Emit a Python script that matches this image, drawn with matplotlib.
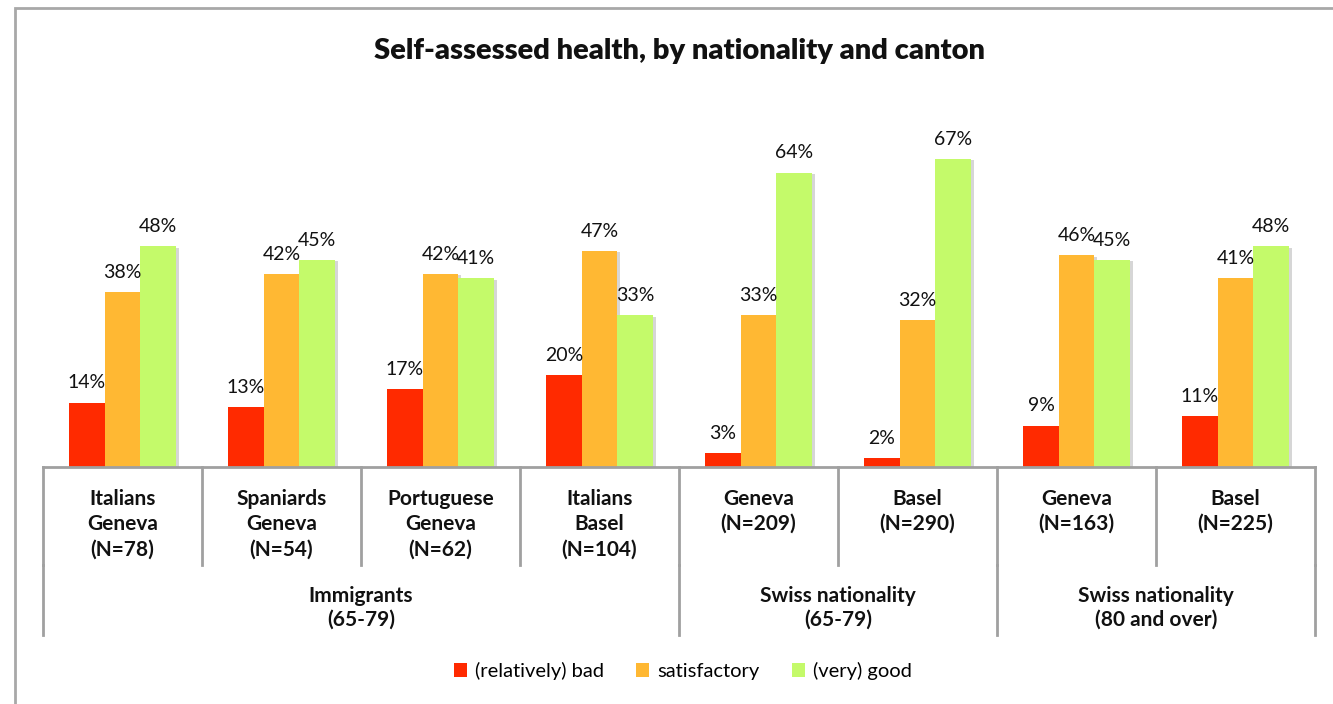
import matplotlib
matplotlib.use("Agg")
import matplotlib.pyplot as plt
import matplotlib.patheffects as pe
from matplotlib.patches import Rectangle, Patch
import numpy as np

plt.rcParams['font.family'] = ['Lato', 'DejaVu Sans']

# dados do gráfico
categorias = ["Italians\nGeneva\n(N=78)", "Spaniards\nGeneva\n(N=54)",
              "Portuguese\nGeneva\n(N=62)", "Italians\nBasel\n(N=104)",
              "Geneva\n(N=209)", "Basel\n(N=290)",
              "Geneva\n(N=163)", "Basel\n(N=225)"]
grupos = ["Immigrants\n(65-79)", "Swiss nationality\n(65-79)",
          "Swiss nationality\n(80 and over)"]
grupos_tamanho = [4, 2, 2]

series = ["(relatively) bad", "satisfactory", "(very) good"]
ruim = [14, 13, 17, 20, 3, 2, 9, 11]
satisfatorio = [38, 42, 42, 47, 33, 32, 46, 41]
bom = [48, 45, 41, 33, 64, 67, 45, 48]
cores = ['#FF2A00', '#FFB833', '#C4FA6A']

W, H = 1333, 704
fig = plt.figure(figsize=(W / 100, H / 100), dpi=100)

# moldura (sai da imagem à direita e embaixo)
fig.patches.append(Rectangle((15 / W, -0.1), 1.1, (H - 8) / H + 0.1,
                             transform=fig.transFigure, fill=False,
                             edgecolor='#a8a8a8', linewidth=2))

# eixo principal em pixels: x 43..1315, base em y=467, topo em y=99
x0, x1, yb, yt = 43, 1315, 467, 99
ax = fig.add_axes([x0 / W, (H - yb) / H, (x1 - x0) / W, (yb - yt) / H])
ax.set_xlim(-0.5, len(categorias) - 0.5)
ax.set_ylim(0, 80)
ax.axis('off')

x = np.arange(len(categorias))
larg = 0.2236
sombra = [pe.SimplePatchShadow(offset=(2, -1), shadow_rgbFace='#999999', alpha=0.4), pe.Normal()]
for i, (vals, cor) in enumerate(zip([ruim, satisfatorio, bom], cores)):
    barras = ax.bar(x + (i - 1) * larg, vals, larg, color=cor, linewidth=0, zorder=2)
    for b in barras:
        b.set_path_effects(sombra)
    for xi, v in zip(x + (i - 1) * larg, vals):
        ax.annotate(f"{v}%", (xi, v), xytext=(0, 8), textcoords='offset points',
                    ha='center', va='bottom', fontsize=14, color='#111111')

# tabela de categorias embaixo do gráfico
px = (yb - yt)
linha1 = -(565 - yb) / px
linha2 = -(635 - yb) / px
trans = ax.get_xaxis_transform()
cinza = '#a0a0a0'
ax.plot([-0.5, len(categorias) - 0.5], [0, 0], transform=trans, color=cinza,
        lw=2, clip_on=False, zorder=3)
for k in range(len(categorias) + 1):
    ax.plot([k - 0.5, k - 0.5], [0, linha1], transform=trans, color=cinza,
            lw=2, clip_on=False)
for k, cat in enumerate(categorias):
    ax.text(k, -(489 - yb) / px, cat, transform=trans, ha='center', va='top',
            fontsize=15, fontweight='bold', linespacing=1.32, color='#111111')

limites = np.concatenate([[0], np.cumsum(grupos_tamanho)]) - 0.5
for b in limites:
    ax.plot([b, b], [linha1, linha2], transform=trans, color=cinza,
            lw=2, clip_on=False)
for g, a, b in zip(grupos, limites[:-1], limites[1:]):
    ax.text((a + b) / 2, -(586 - yb) / px, g, transform=trans, ha='center',
            va='top', fontsize=15, fontweight='bold', linespacing=1.25,
            color='#111111')

fig.text(680 / W, 1 - 51 / H, "Self-assessed health, by nationality and canton",
         ha='center', va='center', fontsize=21, fontweight='heavy', color='#111111')

handles = [Patch(facecolor=c, edgecolor='none') for c in cores]
fig.legend(handles, series, loc='center', bbox_to_anchor=(683 / W, 1 - 671 / H),
           ncol=3, frameon=False, fontsize=14.5, handlelength=0.65, handleheight=0.65,
           handletextpad=0.4, columnspacing=1.6)

fig.savefig("out.png", dpi=100)
